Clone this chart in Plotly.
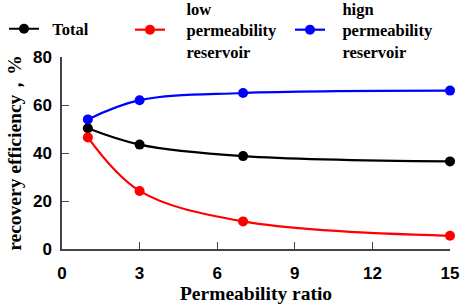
import plotly.graph_objects as go

ratio = [1, 3, 7, 15]
total = [50.3, 43.5, 38.7, 36.5]
low_perm = [46.5, 24.2, 11.5, 5.5]
high_perm = [54.0, 62.0, 65.0, 66.0]

x_ticks = [0, 3, 6, 9, 12, 15]
y_ticks = [0, 20, 40, 60, 80]

W, H = 462, 308
ml, mr, mt, mb = 62, 12, 57, 59
pw, ph = W - ml - mr, H - mt - mb

NB = "\u00a0"
fig = go.Figure()
series = [
    (NB * 2 + "Total", total, "black", "legend"),
    ("<br>".join(NB * 4 + s for s in ["low", "permeability", "reservoir"]), low_perm, "#ff0000", "legend2"),
    ("<br>".join(NB * 3 + s for s in ["hign", "permeability", "reservoir"]), high_perm, "#0000ff", "legend3"),
]
for name, vals, col, lg in series:
    fig.add_trace(go.Scatter(
        x=ratio, y=vals, name=name, mode="lines+markers",
        line=dict(color=col, width=2.2, shape="spline", smoothing=1.0),
        marker=dict(color=col, size=10),
        legend=lg, showlegend=True,
        cliponaxis=False,
    ))

legfont = dict(family="Liberation Serif", size=16.5, color="black", weight="bold")
def py2paper(py):
    return 1 + (mt - py) / ph
def leg(px, py, anchor):
    return dict(x=(px - ml) / pw, xanchor="left", y=py2paper(py), yanchor=anchor,
                font=legfont, bgcolor="rgba(0,0,0,0)", itemwidth=30,
                tracegroupgap=0, valign="middle", visible=True)

fig.update_layout(
    width=W, height=H,
    showlegend=True,
    margin=dict(l=ml, r=mr, t=mt, b=mb, autoexpand=False),
    plot_bgcolor="white", paper_bgcolor="white",
    legend=leg(4, 29, "middle"),
    legend2=leg(130, -9, "top"),
    legend3=leg(290, -9, "top"),
    xaxis=dict(
        range=[0, 15], tickvals=x_ticks, ticks="inside", ticklen=7,
        tickcolor="#444", showline=True, linecolor="#444", linewidth=1.5,
        showgrid=False, zeroline=False, automargin=False, ticklabelstandoff=8,
        tickfont=dict(family="Liberation Sans", size=17, color="black", weight="bold"),
        title=dict(text="Permeability ratio", standoff=4,
                   font=dict(family="Liberation Serif", size=19.5, color="black", weight="bold")),
    ),
    yaxis=dict(
        range=[0, 80], tickvals=y_ticks, ticks="inside", ticklen=7,
        tickcolor="#444", showline=True, linecolor="#444", linewidth=1.5,
        showgrid=False, zeroline=False, automargin=False, ticklabelstandoff=5,
        tickfont=dict(family="Liberation Sans", size=17, color="black", weight="bold"),
        title=dict(text="recovery efficiency，%", standoff=6,
                   font=dict(family="Liberation Serif", size=19.5, color="black", weight="bold")),
    ),
)

fig.write_html("out.html", config={"displayModeBar": False},
               post_script="document.body.style.margin='0';")
